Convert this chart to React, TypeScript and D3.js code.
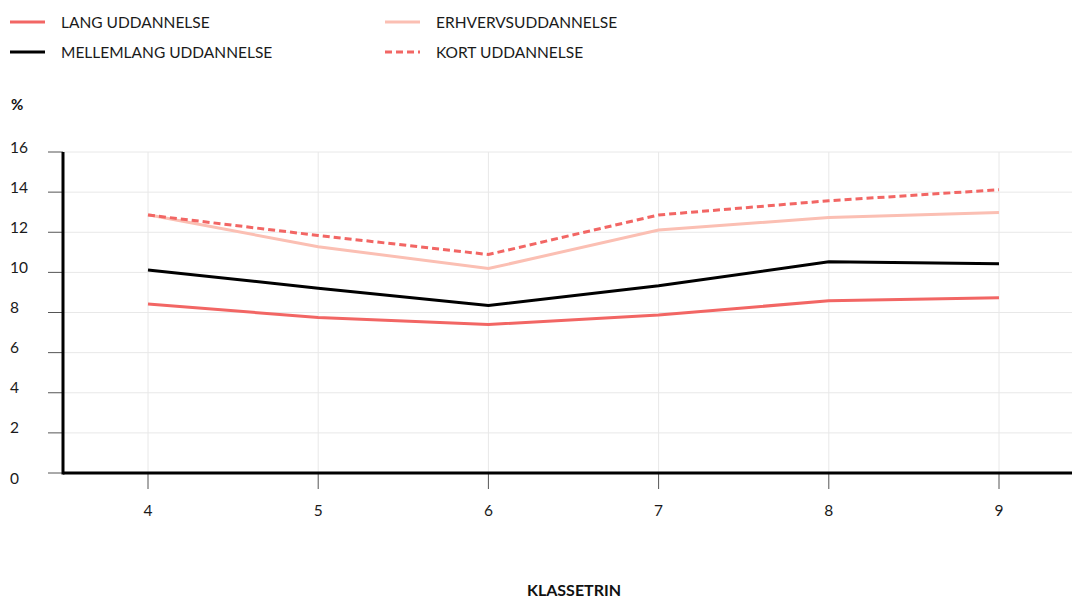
import React from "react";
import * as d3 from "d3";

const grades = [4, 5, 6, 7, 8, 9];
const lang = [8.42, 7.75, 7.4, 7.88, 8.58, 8.74];
const mellemlang = [10.12, 9.21, 8.35, 9.33, 10.53, 10.43];
const erhverv = [12.87, 11.28, 10.19, 12.11, 12.73, 12.98];
const kort = [12.86, 11.84, 10.89, 12.86, 13.57, 14.12];
const yTicks = [0, 2, 4, 6, 8, 10, 12, 14, 16];

const W = 1072;
const H = 599;
const FONT = "Lato, 'Open Sans', sans-serif";

const series = [
  { name: "LANG UDDANNELSE", values: lang, color: "#f26664", dash: "" },
  { name: "MELLEMLANG UDDANNELSE", values: mellemlang, color: "#000000", dash: "" },
  { name: "ERHVERVSUDDANNELSE", values: erhverv, color: "#fbbfb3", dash: "" },
  { name: "KORT UDDANNELSE", values: kort, color: "#f26664", dash: "7,4" },
];

export default function App() {
  const x = d3.scaleLinear().domain([4, 9]).range([148, 999]);
  const y = d3.scaleLinear().domain([0, 16]).range([473, 152]);
  const left = 63;
  const right = W;
  const line = d3
    .line<number>()
    .x((_, i) => x(grades[i]))
    .y((d) => y(d));

  const legendPos = [
    { x: 10, y: 22 },
    { x: 10, y: 52 },
    { x: 385, y: 22 },
    { x: 385, y: 52 },
  ];
  const drawOrder = [2, 3, 1, 0];

  return (
    <svg
      width={W}
      height={H}
      style={{ position: "absolute", left: 0, top: 0, fontFamily: FONT }}
    >
      <rect width={W} height={H} fill="#ffffff" />
      {/* legend */}
      {series.map((s, i) => (
        <g key={s.name}>
          <line
            x1={legendPos[i].x}
            x2={legendPos[i].x + 35}
            y1={legendPos[i].y}
            y2={legendPos[i].y}
            stroke={s.color}
            strokeWidth={3}
            strokeDasharray={s.dash}
          />
          <text
            x={legendPos[i].x + 51}
            y={legendPos[i].y}
            dy="0.36em"
            fontSize={15.5}
            fill="#1a1a1a"
            fontWeight={400}
          >
            {s.name}
          </text>
        </g>
      ))}
      <text x={11} y={105} dy="0.36em" fontSize={15} fontWeight={700} fill="#111">
        %
      </text>
      {/* grid */}
      {yTicks.map((t) => (
        <line key={"gy" + t} x1={left} x2={right} y1={y(t)} y2={y(t)} stroke="#e8e8e8" strokeWidth={1} />
      ))}
      {grades.map((g) => (
        <line key={"gx" + g} x1={x(g)} x2={x(g)} y1={y(16)} y2={y(0)} stroke="#e8e8e8" strokeWidth={1} />
      ))}
      {/* y ticks */}
      {yTicks.map((t) => (
        <g key={"yt" + t}>
          <line x1={48} x2={left} y1={y(t)} y2={y(t)} stroke="#555" strokeWidth={1} />
          <text
            x={10}
            y={t === 0 ? y(t) + 5 : y(t) - 5}
            dy="0.36em"
            fontSize={15.5}
            fontWeight={400}
            fill="#1a1a1a"
          >
            {t}
          </text>
        </g>
      ))}
      {/* x ticks */}
      {grades.map((g) => (
        <g key={"xt" + g}>
          <line x1={x(g)} x2={x(g)} y1={y(0)} y2={y(0) + 16} stroke="#555" strokeWidth={1} />
          <text x={x(g)} y={510} dy="0.36em" textAnchor="middle" fontSize={15.5} fontWeight={400} fill="#1a1a1a">
            {g}
          </text>
        </g>
      ))}
      {/* lines */}
      {drawOrder.map((i) => {
        const s = series[i];
        return (
          <path
            key={"l" + s.name}
            d={line(s.values) || ""}
            fill="none"
            stroke={s.color}
            strokeWidth={3}
            strokeDasharray={s.dash}
          />
        );
      })}
      {/* axes */}
      <line x1={left} x2={left} y1={y(16)} y2={y(0) + 1.5} stroke="#000" strokeWidth={3} />
      <line x1={left} x2={right} y1={y(0)} y2={y(0)} stroke="#000" strokeWidth={3} />
      <text x={574} y={590} dy="0.36em" textAnchor="middle" fontSize={16} fontWeight={700} fill="#111">
        KLASSETRIN
      </text>
    </svg>
  );
}
